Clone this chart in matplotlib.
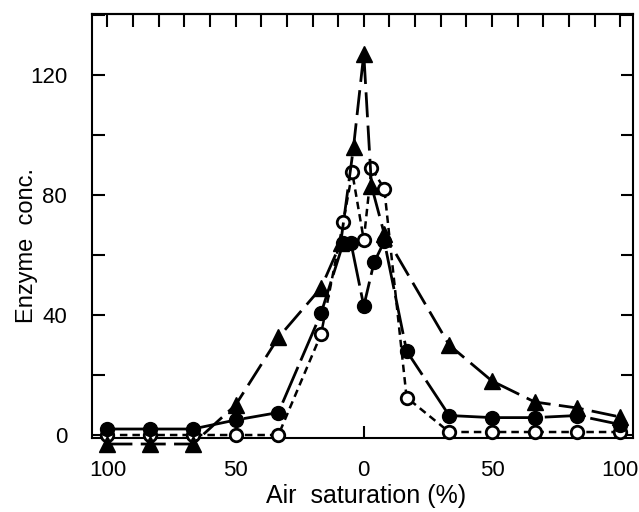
import matplotlib
matplotlib.use("Agg")
import matplotlib.pyplot as plt
from matplotlib.ticker import FixedLocator, MultipleLocator

plt.rcParams['font.family'] = ['Liberation Sans', 'DejaVu Sans']

# x: negative = left branch (100 -> 0), positive = right branch (0 -> 100)
tri_x = [-100, -83.3, -66.7, -50, -33.3, -16.7, -9, -4, 0, 3, 8, 33.3, 50, 66.7, 83.3, 100]
tri_y = [-3, -3, -3, 10, 32.5, 49, 64, 96, 127, 83, 67, 30, 18, 11, 9, 6]

fill_x = [-100, -83.3, -66.7, -50, -33.3, -16.7, -8, -5, 0, 4, 8, 16.7, 33.3, 50, 66.7, 83.3, 100]
fill_y = [2, 2, 2, 5, 7.5, 40.5, 64, 64, 43, 57.5, 64.5, 28, 6.5, 5.8, 5.8, 6.5, 3.5]

open_x = [-100, -83.3, -66.7, -50, -33.3, -16.7, -8, -4.5, 0, 3, 8, 16.7, 33.3, 50, 66.7, 83.3, 100]
open_y = [0, 0, 0, 0, 0, 33.5, 71, 87.5, 65, 89, 82, 12.5, 1, 1, 1, 1, 1]

xtick_pos = [-100, -50, 0, 50, 100]
xtick_lab = ['100', '50', '0', '50', '100']
ytick_lab = [0, 40, 80, 120]

fig = plt.figure(figsize=(6.39, 5.12), dpi=100)
ax = fig.add_axes([0.144, 0.1445, 0.8466, 0.8282])

ax.plot(open_x, open_y, color='k', lw=1.8, dashes=(3, 2), marker='o', ms=9,
        mfc='white', mec='k', mew=2, clip_on=False, zorder=3)
ax.plot(fill_x, fill_y, color='k', lw=2, dashes=(14, 2.5), marker='o', ms=10,
        mfc='k', mec='k', clip_on=False, zorder=4)
ax.plot(tri_x, tri_y, color='k', lw=2, dashes=(9, 3), marker='^', ms=11,
        mfc='k', mec='k', clip_on=False, zorder=5)

ax.set_xlim(-106, 105)
ax.set_ylim(-1, 140.3)

ax.xaxis.set_major_locator(FixedLocator(xtick_pos))
ax.set_xticklabels(xtick_lab)
ax.yaxis.set_major_locator(FixedLocator(ytick_lab))
ax.yaxis.set_minor_locator(MultipleLocator(20))

ax.tick_params(axis='both', which='both', direction='in', width=1.5,
               labelsize=16, length=9)
ax.tick_params(axis='x', which='major', top=False, pad=16)
ax.tick_params(axis='y', which='both', right=True, pad=18)

# top edge ticks every 10 %
top = ax.secondary_xaxis('top')
top.set_xticks(range(-100, 101, 10))
top.tick_params(direction='in', length=9, width=1.5, labeltop=False)
top.spines['top'].set_linewidth(1.5)

for s in ax.spines.values():
    s.set_linewidth(1.5)

ax.set_xlabel('Air  saturation (%)', fontsize=18)
ax.set_ylabel('Enzyme  conc.', fontsize=17)
ax.xaxis.set_label_coords(0.506, -0.108)
ax.yaxis.set_label_coords(-0.1, 0.455)

fig.savefig('out.png', dpi=100)
